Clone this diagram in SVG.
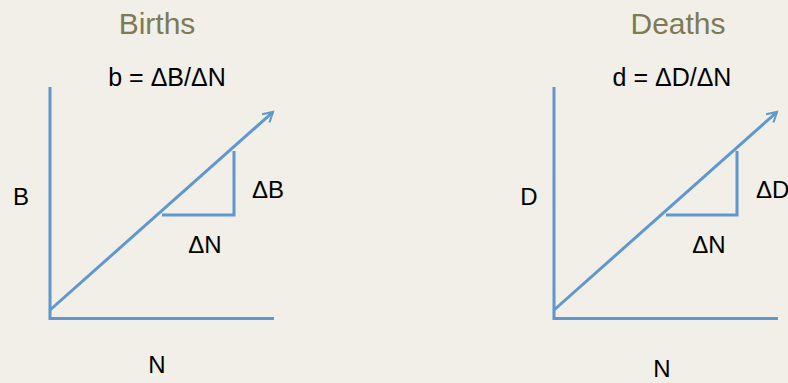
<svg xmlns="http://www.w3.org/2000/svg" width="788" height="383" viewBox="0 0 788 383">
<style>
.ln{stroke:#5f97cf;stroke-width:3;fill:none;stroke-linecap:butt}
.t{font-family:"Liberation Sans",Arial,sans-serif;fill:#000}
.title{font-family:"Liberation Sans",Arial,sans-serif;fill:#7e7a55;font-size:30px;text-anchor:middle}
</style>
<defs>
<marker id="ah" viewBox="0 0 10 10" refX="8" refY="5" markerWidth="4.6" markerHeight="4.6" orient="auto" markerUnits="strokeWidth">
<path d="M1,1 L8,5 L1,9" fill="none" stroke="#5f97cf" stroke-width="1.5"/>
</marker>
</defs>
<rect width="788" height="383" fill="#f1efe7"/>
<g id="births">
<text class="title" x="157" y="34">Births</text>
<text class="t" x="167" y="86" font-size="25" text-anchor="middle">b = ΔB/ΔN</text>
<text class="t" x="21" y="205" font-size="24" text-anchor="middle">B</text>
<text class="t" x="268" y="198" font-size="24" text-anchor="middle">ΔB</text>
<text class="t" x="205" y="253" font-size="24" text-anchor="middle">ΔN</text>
<text class="t" x="157" y="373" font-size="24" text-anchor="middle">N</text>
</g>
<g id="deaths">
<text class="title" x="678" y="34">Deaths</text>
<text class="t" x="672" y="86" font-size="25" text-anchor="middle">d = ΔD/ΔN</text>
<text class="t" x="529" y="205" font-size="24" text-anchor="middle">D</text>
<text class="t" x="756" y="198" font-size="24">ΔD</text>
<text class="t" x="709" y="253" font-size="24" text-anchor="middle">ΔN</text>
<text class="t" x="662" y="377" font-size="24" text-anchor="middle">N</text>
</g>
<g id="connectors">
<path class="ln" d="M50,87 V318.5 H274"/>
<path class="ln" d="M50,310 L273,112" marker-end="url(#ah)"/>
<path class="ln" d="M162,215 H234 V151"/>
<path class="ln" d="M554,87 V318.5 H778"/>
<path class="ln" d="M554,310 L777,112" marker-end="url(#ah)"/>
<path class="ln" d="M666,215 H737 V151"/>
</g>
</svg>
